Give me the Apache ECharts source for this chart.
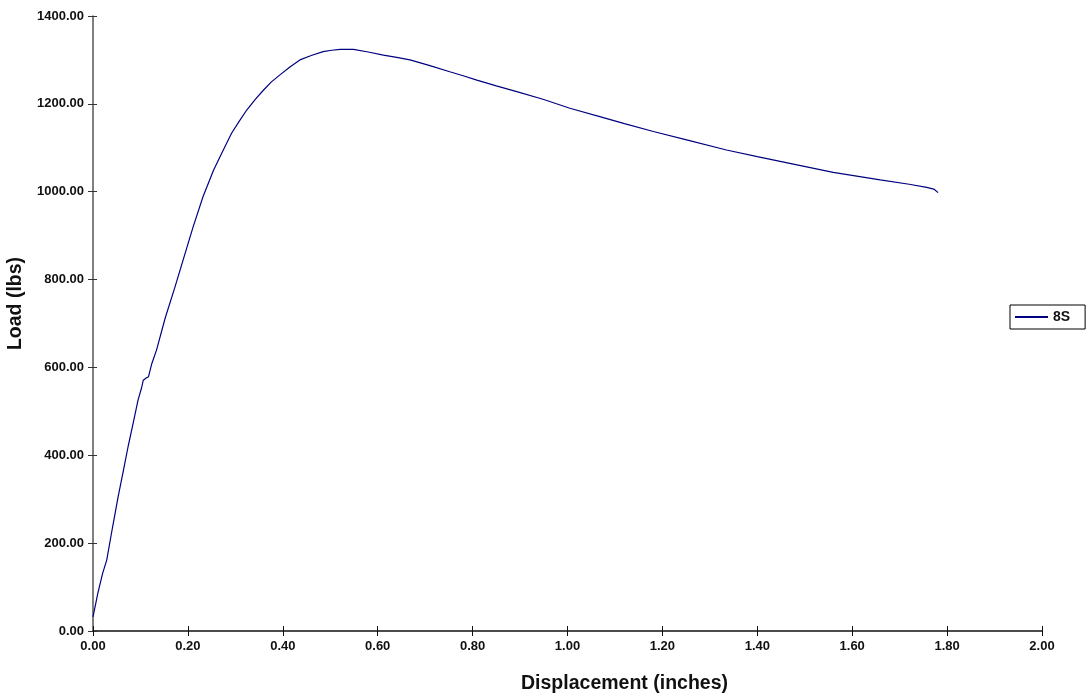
<!DOCTYPE html>
<html>
<head>
<meta charset="utf-8">
<script src="https://cdn.jsdelivr.net/npm/echarts@6/dist/echarts.min.js"></script>
<style>html,body{margin:0;padding:0;background:#fff;}#c{width:1088px;height:696px;}</style>
</head>
<body>
<div id="c"></div>
<script>
const seriesName = '8S';
const displacement = [0.000, 0.010, 0.020, 0.029, 0.041, 0.053, 0.064, 0.074, 0.085, 0.095, 0.102, 0.106, 0.112, 0.117, 0.124, 0.134, 0.152, 0.173, 0.190, 0.211, 0.232, 0.254, 0.271, 0.292, 0.308, 0.324, 0.342, 0.359, 0.376, 0.394, 0.415, 0.436, 0.460, 0.485, 0.503, 0.521, 0.549, 0.580, 0.612, 0.640, 0.668, 0.710, 0.752, 0.780, 0.809, 0.850, 0.893, 0.950, 1.005, 1.068, 1.120, 1.181, 1.251, 1.335, 1.400, 1.476, 1.560, 1.659, 1.720, 1.757, 1.772, 1.781];
const load = [32, 85, 130, 162, 235, 306, 365, 420, 475, 526, 552, 571, 576, 579, 609, 640, 712, 784, 845, 920, 989, 1049, 1087, 1133, 1160, 1186, 1210, 1231, 1250, 1266, 1284, 1300, 1310, 1319, 1322, 1324, 1324, 1318, 1311, 1306, 1300, 1287, 1273, 1264, 1254, 1241, 1228, 1210, 1190, 1171, 1155, 1137, 1118, 1095, 1080, 1063, 1044, 1027, 1017, 1010, 1006, 998];
const xTicks = {min: 0, max: 2, interval: 0.2};
const yTicks = {min: 0, max: 1400, interval: 200};

const chart = echarts.init(document.getElementById('c'));
const labelFont = {fontFamily: 'Liberation Sans, Arial, sans-serif', fontWeight: 'bold', fontSize: 13, color: '#111'};
const nameFont = {fontFamily: 'Liberation Sans, Arial, sans-serif', fontWeight: 'bold', fontSize: 19.5, color: '#111'};
chart.setOption({
  animation: false,
  backgroundColor: '#fff',
  grid: {left: 93, right: 46, top: 16, bottom: 65, containLabel: false, outerBoundsMode: 'none'},
  legend: {
    data: [{name: seriesName}],
    left: 1010, top: 305,
    orient: 'vertical',
    borderColor: '#000', borderWidth: 1,
    padding: [5, 15, 5, 5],
    itemWidth: 33, itemHeight: 2, itemGap: 4,
    icon: 'rect',
    textStyle: {fontFamily: 'Liberation Sans, Arial, sans-serif', fontWeight: 'bold', fontSize: 14, color: '#111'}
  },
  xAxis: [{
    type: 'value', min: xTicks.min, max: xTicks.max, interval: xTicks.interval,
    name: 'Displacement (inches)', nameLocation: 'middle', nameGap: 43,
    nameTextStyle: Object.assign({padding: [0, 0, 0, 114]}, nameFont),
    axisLine: {show: true, onZero: false, lineStyle: {color: '#111', width: 1.5}},
    axisTick: {show: true, length: 5, lineStyle: {color: '#111'}},
    axisLabel: Object.assign({margin: 9, formatter: v => v.toFixed(2)}, labelFont),
    splitLine: {show: false}
  }, {
    type: 'value', position: 'bottom', min: xTicks.min, max: xTicks.max, interval: xTicks.interval,
    axisLine: {show: false}, axisLabel: {show: false}, splitLine: {show: false},
    axisTick: {show: true, inside: true, length: 5, lineStyle: {color: '#111'}}
  }],
  yAxis: [{
    type: 'value', min: yTicks.min, max: yTicks.max, interval: yTicks.interval,
    name: 'Load (lbs)', nameLocation: 'middle', nameGap: 61,
    nameTextStyle: Object.assign({padding: [0, 0, 0, 40]}, nameFont),
    axisLine: {show: true, onZero: false, lineStyle: {color: '#555', width: 1.5}},
    axisTick: {show: true, length: 5, lineStyle: {color: '#333'}},
    axisLabel: Object.assign({margin: 9, formatter: v => v.toFixed(2)}, labelFont),
    splitLine: {show: false}
  }, {
    type: 'value', position: 'left', min: yTicks.min, max: yTicks.max, interval: yTicks.interval,
    axisLine: {show: false}, axisLabel: {show: false}, splitLine: {show: false},
    axisTick: {show: true, inside: true, length: 4, lineStyle: {color: '#333'}}
  }],
  series: [{
    name: seriesName, type: 'line', xAxisIndex: 0, yAxisIndex: 0,
    data: displacement.map((d, i) => [d, load[i]]),
    showSymbol: false, symbol: 'none', smooth: false,
    lineStyle: {color: '#000080', width: 1.2},
    itemStyle: {color: '#000080'}
  }]
});
</script>
</body>
</html>
